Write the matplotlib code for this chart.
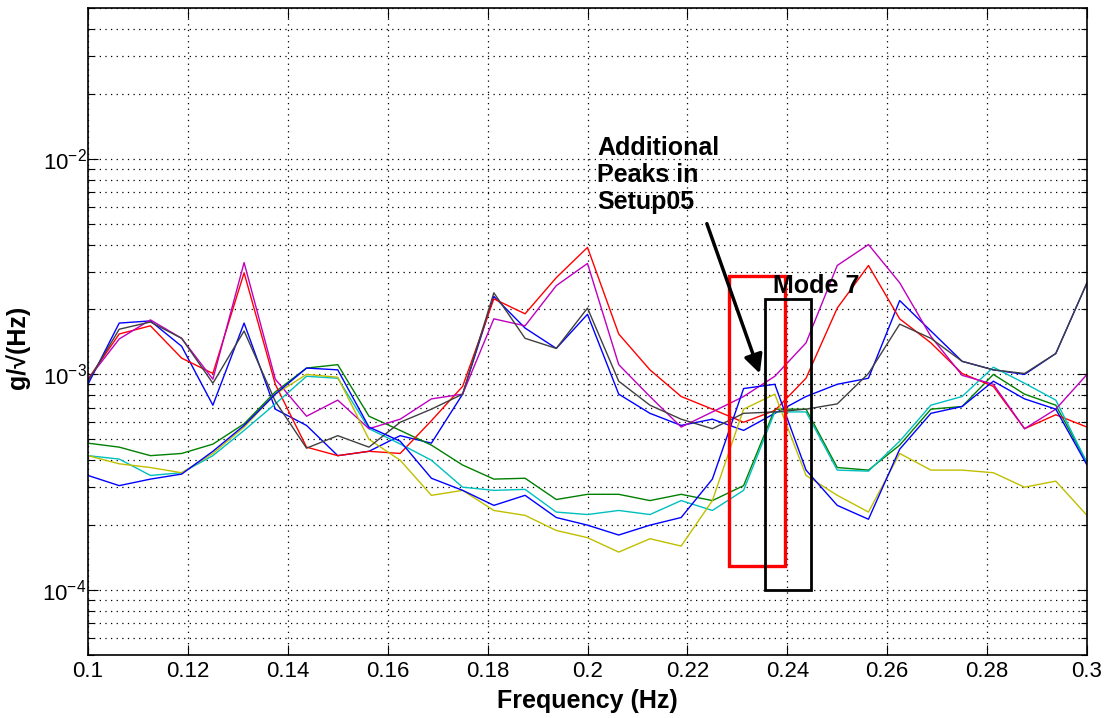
import math
import matplotlib
matplotlib.use("Agg")
import matplotlib.pyplot as plt
from matplotlib.patches import Rectangle
from matplotlib.ticker import LogLocator, FixedLocator, NullFormatter, FuncFormatter

plt.rcParams['font.family'] = ['Liberation Sans', 'DejaVu Sans']
plt.rcParams['mathtext.fontset'] = 'custom'
plt.rcParams['mathtext.rm'] = 'Liberation Sans'

freq = [0.1, 0.10625, 0.1125, 0.11875, 0.125, 0.13125, 0.1375, 0.14375, 0.15,
        0.15625, 0.1625, 0.16875, 0.175, 0.18125, 0.1875, 0.19375, 0.2,
        0.20625, 0.2125, 0.21875, 0.225, 0.23125, 0.2375, 0.24375, 0.25,
        0.25625, 0.2625, 0.26875, 0.275, 0.28125, 0.2875, 0.29375, 0.3]

blue1 = [9.0e-4, 1.73e-3, 1.77e-3, 1.35e-3, 7.2e-4, 1.73e-3, 6.9e-4, 5.8e-4, 4.2e-4,
         4.4e-4, 5.2e-4, 4.8e-4, 8.1e-4, 2.3e-3, 1.64e-3, 1.32e-3, 1.9e-3, 8.1e-4,
         6.6e-4, 5.8e-4, 6.2e-4, 5.5e-4, 6.6e-4, 7.9e-4, 9.0e-4, 9.6e-4, 2.2e-3,
         1.59e-3, 1.15e-3, 1.05e-3, 1.0e-3, 1.25e-3, 2.66e-3]
green = [4.8e-4, 4.6e-4, 4.2e-4, 4.3e-4, 4.75e-4, 5.9e-4, 8.3e-4, 1.07e-3, 1.11e-3,
         6.4e-4, 5.5e-4, 4.7e-4, 3.8e-4, 3.27e-4, 3.3e-4, 2.63e-4, 2.78e-4, 2.78e-4,
         2.6e-4, 2.78e-4, 2.6e-4, 3.05e-4, 6.9e-4, 6.9e-4, 3.7e-4, 3.6e-4, 4.7e-4,
         6.9e-4, 7.1e-4, 1.0e-3, 8.1e-4, 7.2e-4, 3.9e-4]
red = [9.5e-4, 1.54e-3, 1.68e-3, 1.19e-3, 1.01e-3, 2.96e-3, 9.0e-4, 4.6e-4, 4.2e-4,
       4.4e-4, 4.3e-4, 6.1e-4, 8.8e-4, 2.24e-3, 1.91e-3, 2.81e-3, 3.88e-3, 1.54e-3,
       1.05e-3, 7.9e-4, 6.9e-4, 6.0e-4, 6.8e-4, 9.6e-4, 2.03e-3, 3.2e-3, 1.81e-3,
       1.4e-3, 1.01e-3, 8.8e-4, 5.6e-4, 6.5e-4, 5.7e-4]
cyan = [4.2e-4, 4.05e-4, 3.4e-4, 3.5e-4, 4.2e-4, 5.5e-4, 7.3e-4, 9.8e-4, 9.6e-4,
        5.6e-4, 4.76e-4, 4.0e-4, 3.0e-4, 2.9e-4, 2.93e-4, 2.3e-4, 2.24e-4, 2.34e-4,
        2.24e-4, 2.6e-4, 2.34e-4, 2.9e-4, 6.7e-4, 6.7e-4, 3.6e-4, 3.56e-4, 4.9e-4,
        7.2e-4, 7.9e-4, 1.08e-3, 9.1e-4, 7.6e-4, 3.9e-4]
magenta = [9.5e-4, 1.46e-3, 1.79e-3, 1.47e-3, 9.5e-4, 3.3e-3, 9.5e-4, 6.4e-4, 7.6e-4,
           5.6e-4, 6.2e-4, 7.7e-4, 8.1e-4, 1.81e-3, 1.68e-3, 2.58e-3, 3.27e-3, 1.11e-3,
           7.9e-4, 5.7e-4, 6.7e-4, 7.9e-4, 9.8e-4, 1.4e-3, 3.2e-3, 4.0e-3, 2.66e-3,
           1.5e-3, 9.9e-4, 9.0e-4, 5.6e-4, 6.9e-4, 1.0e-3]
yellow = [4.2e-4, 3.85e-4, 3.7e-4, 3.5e-4, 4.3e-4, 5.7e-4, 8.1e-4, 1.0e-3, 9.7e-4,
          5.0e-4, 4.0e-4, 2.75e-4, 2.9e-4, 2.34e-4, 2.22e-4, 1.89e-4, 1.75e-4, 1.5e-4,
          1.73e-4, 1.6e-4, 2.6e-4, 6.9e-4, 8.1e-4, 3.4e-4, 2.75e-4, 2.3e-4, 4.3e-4,
          3.6e-4, 3.6e-4, 3.5e-4, 3.0e-4, 3.2e-4, 2.22e-4]
gray = [9.3e-4, 1.62e-3, 1.75e-3, 1.47e-3, 9.1e-4, 1.59e-3, 7.5e-4, 4.55e-4, 5.2e-4,
        4.6e-4, 6.0e-4, 6.9e-4, 8.1e-4, 2.39e-3, 1.47e-3, 1.32e-3, 2.03e-3, 9.3e-4,
        7.2e-4, 6.2e-4, 5.6e-4, 6.6e-4, 6.7e-4, 6.9e-4, 7.3e-4, 1.01e-3, 1.71e-3,
        1.47e-3, 1.15e-3, 1.05e-3, 1.01e-3, 1.25e-3, 2.66e-3]
blue2 = [3.4e-4, 3.05e-4, 3.27e-4, 3.45e-4, 4.4e-4, 5.8e-4, 8.1e-4, 1.07e-3, 1.05e-3,
         5.7e-4, 4.9e-4, 3.3e-4, 2.9e-4, 2.47e-4, 2.75e-4, 2.17e-4, 2.0e-4, 1.8e-4,
         2.0e-4, 2.17e-4, 3.27e-4, 8.6e-4, 9.0e-4, 3.6e-4, 2.47e-4, 2.13e-4, 4.5e-4,
         6.6e-4, 7.1e-4, 9.3e-4, 7.7e-4, 6.9e-4, 3.8e-4]

series = [blue1, green, red, cyan, magenta, yellow, gray, blue2]
colors = ['#0000ff', '#008000', '#ff0000', '#00bfbf', '#bf00bf', '#bfbf00', '#404040', '#0000ff']

xticks = [0.1, 0.12, 0.14, 0.16, 0.18, 0.2, 0.22, 0.24, 0.26, 0.28, 0.3]
xticklabels = ['0.1', '0.12', '0.14', '0.16', '0.18', '0.2', '0.22', '0.24', '0.26', '0.28', '0.3']

fig = plt.figure(figsize=(11.07, 7.18), dpi=100)
ax = fig.add_axes([88/1107, 1 - 655/718, (1087-88)/1107, (655-8)/718])

for vals, c in zip(series, colors):
    ax.plot(freq, vals, color=c, lw=1.0)

ax.set_yscale('log')
ax.set_xlim(0.1, 0.3)
ax.set_ylim(5e-5, 5e-2)
ax.xaxis.set_major_locator(FixedLocator(xticks))
ax.set_xticklabels(xticklabels)
ax.yaxis.set_major_locator(LogLocator(base=10, numticks=10))
ax.yaxis.set_minor_locator(LogLocator(base=10, subs=range(2, 10), numticks=20))
ax.yaxis.set_minor_formatter(NullFormatter())
ax.yaxis.set_major_formatter(FuncFormatter(
    lambda v, p: r'$\mathregular{10^{%d}}$' % round(math.log10(v))))

grid_kw = dict(color='black', linestyle=(0, (1, 3.5)), linewidth=0.9)
ax.grid(True, which='major', axis='both', **grid_kw)
ax.grid(True, which='minor', axis='y', **grid_kw)

ax.tick_params(axis='both', which='both', direction='in', top=True, right=True,
               labelsize=16, colors='black')
ax.tick_params(axis='both', which='major', length=7, width=0.8)
ax.tick_params(axis='x', which='major', pad=4)
ax.tick_params(axis='y', which='major', pad=1)
ax.tick_params(axis='y', which='minor', length=4, width=0.8)
for sp in ax.spines.values():
    sp.set_linewidth(1.2)

ax.set_xlabel('Frequency (Hz)', fontsize=18, fontweight='bold')
ax.xaxis.set_label_coords(0.5, -0.052)
ax.set_ylabel('g/√(Hz)', fontsize=18, fontweight='bold')
ax.yaxis.set_label_coords(-0.058, 0.475)

# annotation boxes
ax.add_patch(Rectangle((0.2283, 1.29e-4), 0.2395 - 0.2283, 2.87e-3 - 1.29e-4,
                       fill=False, edgecolor='#ff0000', lw=2.4, zorder=5))
ax.add_patch(Rectangle((0.2355, 1.0e-4), 0.2447 - 0.2355, 2.24e-3 - 1.0e-4,
                       fill=False, edgecolor='black', lw=2.0, zorder=5))

ax.annotate('', xy=(0.2345, 1.01e-3), xytext=(0.2239, 5.0e-3),
            arrowprops=dict(arrowstyle='-|>', lw=2.5, color='black', mutation_scale=28,
                            shrinkA=0, shrinkB=0), zorder=6)
ax.text(0.2019, 1.27e-2, 'Additional\nPeaks in\nSetup05', fontsize=18, fontweight='bold',
        ha='left', va='top', linespacing=1.15, zorder=6)
ax.text(0.2371, 2.58e-3, 'Mode 7', fontsize=18, fontweight='bold',
        ha='left', va='center', zorder=6)

fig.savefig('out.png', dpi=100)
